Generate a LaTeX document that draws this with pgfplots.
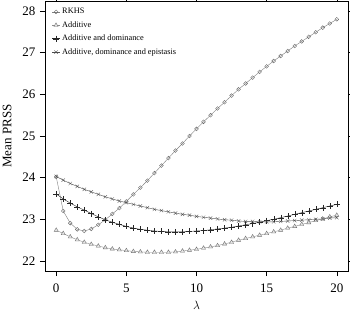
\documentclass[border=0pt]{standalone}
\usepackage{pgfplots}
\pgfplotsset{compat=1.18}
\usetikzlibrary{calc}
\usepackage{fontspec}
\setmainfont{Liberation Serif}
\begin{document}
\begin{tikzpicture}
\begin{axis}[
  scale only axis,
  width=303pt, height=270pt,
  xmin=-0.8, xmax=20.8, ymin=21.76, ymax=28.24,
  xtick={0,5,10,15,20}, ytick={22,23,24,25,26,27,28},
  tick align=outside,
  major tick length=5pt,
  tick style={black, line width=0.5pt},
  axis line style={line width=0.6pt},
  /pgf/number format/assume math mode=true,
  ticklabel style={font=\fontsize{13}{15}\selectfont},
  xticklabel style={yshift=-4pt},
  yticklabel style={xshift=-1pt},
  xlabel={$\lambda$}, ylabel={Mean PRSS},
  label style={font=\fontsize{13}{15}\selectfont},
  xlabel style={yshift=-1.5pt},
  ylabel style={yshift=4pt},
  legend style={draw=none, fill=none, at={(0.012,0.99)}, anchor=north west,
    font=\fontsize{8.3}{10}\selectfont, row sep=1.4pt,
    nodes={text height=6pt, text depth=2pt},
    /tikz/every odd column/.append style={column sep=0pt}},
  legend cell align=left,
  legend image code/.code={\draw[mark repeat=2,mark phase=2] plot coordinates {(0pt,0pt) (4pt,0pt) (8pt,0pt)};},
]
\addplot[color=black!50, line width=0.4pt, mark=o, mark size=1.9pt, mark options={fill=black!30, draw=black!60}] coordinates {
(0,24.02) (0.5,23.20) (1,22.91) (1.5,22.76) (2,22.72) (2.5,22.77) (3,22.87) (3.5,22.99) (4,23.13) (4.5,23.27)
(5,23.43) (5.5,23.60) (6,23.76) (6.5,23.93) (7,24.11) (7.5,24.29) (8,24.47) (8.5,24.65) (9,24.82) (9.5,25.00)
(10,25.17) (10.5,25.34) (11,25.50) (11.5,25.66) (12,25.81) (12.5,25.97) (13,26.12) (13.5,26.26) (14,26.40) (14.5,26.54)
(15,26.67) (15.5,26.80) (16,26.92) (16.5,27.04) (17,27.16) (17.5,27.27) (18,27.38) (18.5,27.49) (19,27.60) (19.5,27.70) (20,27.80)
};
\addlegendentry{RKHS}
\addplot[color=black!45, line width=0.4pt, mark=triangle*, mark size=2.4pt, mark options={fill=black!10, draw=black!55}] coordinates {
(0,22.74) (0.5,22.66) (1,22.58) (1.5,22.51) (2,22.45) (2.5,22.40) (3,22.36) (3.5,22.32) (4,22.29) (4.5,22.27)
(5,22.25) (5.5,22.23) (6,22.22) (6.5,22.21) (7,22.21) (7.5,22.21) (8,22.21) (8.5,22.22) (9,22.24) (9.5,22.26)
(10,22.28) (10.5,22.31) (11,22.34) (11.5,22.37) (12,22.41) (12.5,22.45) (13,22.50) (13.5,22.54) (14,22.58) (14.5,22.62)
(15,22.66) (15.5,22.70) (16,22.74) (16.5,22.79) (17,22.83) (17.5,22.88) (18,22.92) (18.5,22.97) (19,23.01) (19.5,23.06) (20,23.10)
};
\addlegendentry{Additive}
\addplot[color=black!85, line width=0.4pt, mark=+, mark size=3pt, mark options={line width=0.3pt}] coordinates {
(0,23.61) (0.5,23.49) (1,23.39) (1.5,23.30) (2,23.22) (2.5,23.14) (3,23.06) (3.5,22.99) (4,22.93) (4.5,22.88)
(5,22.83) (5.5,22.79) (6,22.76) (6.5,22.74) (7,22.72) (7.5,22.71) (8,22.70) (8.5,22.70) (9,22.70) (9.5,22.71)
(10,22.72) (10.5,22.73) (11,22.75) (11.5,22.77) (12,22.79) (12.5,22.81) (13,22.84) (13.5,22.87) (14,22.90) (14.5,22.93)
(15,22.97) (15.5,23.00) (16,23.04) (16.5,23.08) (17,23.12) (17.5,23.16) (18,23.20) (18.5,23.24) (19,23.28) (19.5,23.32) (20,23.36)
};
\addlegendentry{Additive and dominance}
\addplot[color=black!70, line width=0.4pt, mark=x, mark size=2.4pt, mark options={line width=0.3pt}] coordinates {
(0,24.03) (0.5,23.94) (1,23.86) (1.5,23.79) (2,23.72) (2.5,23.66) (3,23.60) (3.5,23.54) (4,23.49) (4.5,23.44)
(5,23.40) (5.5,23.36) (6,23.32) (6.5,23.28) (7,23.24) (7.5,23.21) (8,23.18) (8.5,23.15) (9,23.12) (9.5,23.10)
(10,23.07) (10.5,23.05) (11,23.03) (11.5,23.01) (12,22.99) (12.5,22.98) (13,22.96) (13.5,22.95) (14,22.95) (14.5,22.94)
(15,22.94) (15.5,22.94) (16,22.95) (16.5,22.96) (17,22.97) (17.5,22.98) (18,22.99) (18.5,23.00) (19,23.01) (19.5,23.03) (20,23.04)
};
\addlegendentry{Additive, dominance and epistasis}
\end{axis}
\pgfresetboundingbox
\path[use as bounding box] ($(current axis.south west)+(-45pt,-41pt)$) rectangle ($(current axis.north east)+(2pt,1pt)$);
\end{tikzpicture}
\end{document}
